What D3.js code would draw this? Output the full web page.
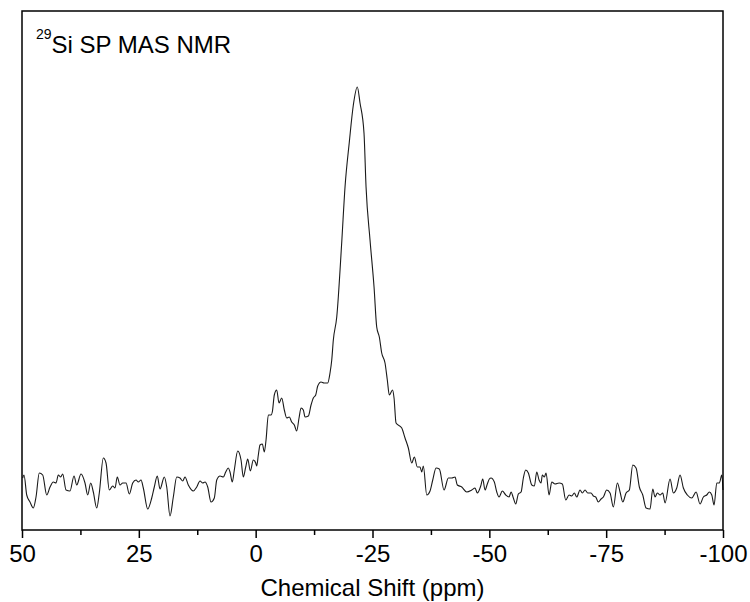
<!DOCTYPE html>
<html>
<head>
<meta charset="utf-8">
<script src="https://cdn.jsdelivr.net/npm/d3@7"></script>
<style>
	body { margin: 0; background: #fff; }
	#vis { width: 750px; height: 602px; }
	text { font-family: "Liberation Sans", Arial, sans-serif; }
</style>
</head>
<body>
<div id="vis"></div>
<script>
// chemical shift (ppm) and intensity (a.u.)
var shift = [49.85, 49.57, 48.99, 48.29, 47.58, 47.0, 46.30, 45.57, 44.71, 44.0, 43.30, 42.72, 42.23, 41.72, 41.29, 40.58, 39.73, 38.87, 38.29, 37.37,
	36.52, 35.94, 35.30, 34.74, 34.01, 33.46, 32.60, 32.02, 31.32, 30.59, 30.10, 29.61, 29.03, 28.45, 27.74, 27.04, 26.31, 25.60, 25.11, 24.53,
	24.04, 23.10, 22.24, 21.69, 21.05, 20.47, 19.55, 19.03, 18.33, 17.62, 16.89, 16.19, 15.61, 15.12, 14.41, 13.34, 12.61, 11.91, 11.33, 10.84,
	10.26, 9.55, 8.85, 8.33, 7.63, 6.92, 6.41, 5.85, 5.49, 5.0, 4.57, 3.84, 3.13, 2.64, 2.13, 1.70, 1.14, 0.50, -0.01, -0.22,
	-0.57, -0.93, -1.42, -1.85, -2.22, -2.71, -3.29, -3.56, -3.99, -4.50, -5.0, -5.57, -6.13, -6.64, -7.20, -7.71, -8.27, -8.78, -9.28, -9.71,
	-10.20, -10.56, -11.27, -11.85, -12.34, -12.85, -13.28, -13.99, -14.63, -15.42, -15.91, -16.28, -16.62, -17.35, -18.42, -19.12, -20.04, -20.90, -21.75, -22.33,
	-23.18, -23.62, -24.47, -25.33, -25.90, -26.46, -26.97, -27.68, -28.17, -28.60, -29.29, -29.61, -30.04, -31.26, -31.96, -32.67, -33.40, -33.95, -34.59, -35.17,
	-35.54, -35.88, -36.61, -37.31, -37.89, -38.60, -39.30, -40.31, -41.23, -41.96, -42.66, -43.15, -44.10, -45.16, -46.24, -46.94, -47.43, -48.16, -48.59, -49.08,
	-49.57, -50.0, -50.36, -51.07, -51.59, -52.08, -52.78, -53.51, -54.22, -54.65, -55.14, -55.65, -56.21, -56.79, -57.28, -57.79, -58.35, -59.08, -59.63, -60.15,
	-60.64, -61.07, -61.34, -61.77, -62.14, -62.78, -63.36, -64.06, -64.92, -65.62, -66.35, -67.06, -67.63, -68.19, -68.70, -69.41, -69.90, -70.48, -71.06, -71.76,
	-72.25, -72.77, -73.32, -73.91, -74.40, -75.12, -75.83, -76.54, -77.40, -77.97, -78.55, -79.26, -79.96, -80.69, -81.40, -82.10, -82.83, -83.54, -84.39, -84.97,
	-85.46, -85.95, -86.53, -87.10, -87.60, -88.67, -89.38, -90.10, -90.81, -91.52, -92.37, -93.32, -94.24, -95.09, -95.80, -96.52, -97.08, -97.60, -98.09, -98.67,
	-99.22, -99.74, -100];
var intensity = [52, 55, 35, 28, 22, 33, 57, 55, 35, 43, 48, 47, 55, 53, 56, 40, 39, 54, 45, 56,
	47, 35, 47, 38, 22, 37, 72, 67, 40, 44, 42, 53, 45, 47, 47, 36, 47, 50, 48, 50,
	42, 21, 32, 43, 54, 41, 53, 43, 14, 33, 53, 52, 49, 53, 45, 39, 43, 49, 47, 48,
	43, 28, 32, 50, 54, 53, 58, 62, 58, 48, 60, 79, 70, 53, 63, 71, 59, 70, 67, 64,
	75, 85, 86, 78, 90, 115, 115, 118, 135, 140, 127, 132, 120, 112, 113, 108, 105, 99, 112, 122,
	120, 113, 114, 125, 132, 135, 144, 148, 147, 147, 157, 170, 190, 213, 288, 343, 388, 425, 443, 427,
	397, 343, 290, 243, 203, 193, 177, 167, 150, 135, 140, 132, 107, 102, 92, 82, 67, 73, 63, 63,
	58, 64, 35, 39, 50, 62, 61, 40, 52, 52, 53, 45, 43, 38, 40, 42, 37, 44, 51, 40,
	46, 51, 52, 48, 38, 33, 39, 35, 33, 38, 32, 26, 36, 38, 52, 60, 57, 45, 44, 58,
	50, 47, 55, 53, 57, 35, 48, 46, 47, 46, 30, 35, 34, 37, 33, 40, 37, 40, 37, 37,
	34, 33, 28, 31, 33, 40, 37, 23, 47, 38, 28, 37, 40, 65, 62, 43, 35, 22, 21, 41,
	33, 37, 35, 37, 27, 51, 37, 42, 55, 42, 35, 32, 38, 26, 33, 35, 38, 35, 25, 47,
	47, 55, 40];
var major_ticks = [50, 25, 0, -25, -50, -75, -100];
var minor_ticks = [37.5, 12.5, -12.5, -37.5, -62.5, -87.5];

var width = 750;
var height = 602;
var margin = {
	top: 11,
	bottom: 72,
	left: 22,
	right: 27
};
var svg = d3.select('#vis').append('svg').attr('width', width).attr('height', height).append('g').attr('transform', 'translate(' + margin.left + ',' + margin.top + ')');
width = width - margin.left - margin.right;
height = height - margin.top - margin.bottom;

var data = shift.map(function(d, i) {
	return { x: d, y: intensity[i] };
});
var x_scale = d3.scaleLinear().domain([50, -100]).range([0, width]);
var y_scale = d3.scaleLinear().domain([0, 519]).range([height, 0]);

// plain hyphen for negatives, like the original
var x_axis = d3.axisBottom(x_scale).tickValues(major_ticks).tickSize(8).tickPadding(7).tickSizeOuter(0).tickFormat(function(d) {
	return String(d);
});
var x_minor = d3.axisBottom(x_scale).tickValues(minor_ticks).tickSize(5).tickSizeOuter(0).tickFormat('');

var line = d3.line().curve(d3.curveMonotoneX).x(function(d) {
	return x_scale(d.x);
}).y(function(d) {
	return y_scale(d.y);
});

svg.append('path').datum(data).attr('d', line).attr('fill', 'none').attr('stroke', '#1a1a1a').attr('stroke-width', 1.1).attr('stroke-linejoin', 'round');

var gx = svg.append('g').attr('transform', 'translate(0,' + height + ')').call(x_axis);
gx.selectAll('text').attr('font-size', 24).attr('fill', '#000').attr('font-family', '"Liberation Sans", Arial, sans-serif');
gx.selectAll('line').attr('stroke', '#000').attr('stroke-width', 1.5);
gx.select('.domain').remove();
var gm = svg.append('g').attr('transform', 'translate(0,' + height + ')').call(x_minor);
gm.selectAll('line').attr('stroke', '#000').attr('stroke-width', 1.5);
gm.select('.domain').remove();

svg.append('rect').attr('x', 0).attr('y', 0).attr('width', width).attr('height', height).attr('fill', 'none').attr('stroke', '#000').attr('stroke-width', 1.5);

svg.append('text').attr('x', width / 2).attr('y', height + 66).attr('text-anchor', 'middle').attr('font-size', 24).text('Chemical Shift (ppm)');

var title = svg.append('text').attr('x', 14).attr('y', 42).attr('font-size', 24);
title.append('tspan').attr('font-size', 14).attr('dy', -14).text('29');
title.append('tspan').attr('dy', 14).text('Si SP MAS NMR');
</script>
</body>
</html>
